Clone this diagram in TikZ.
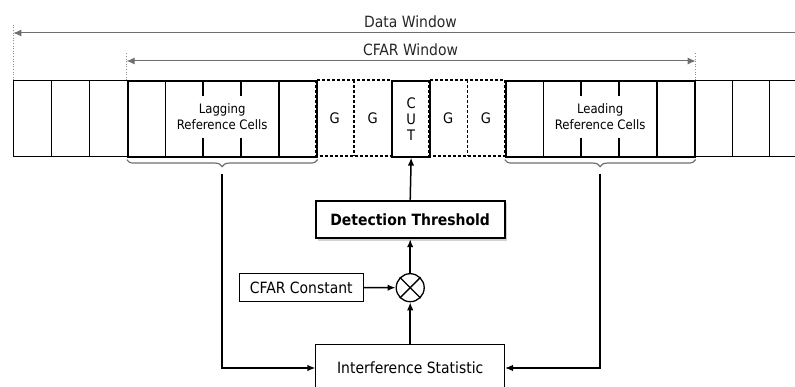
\documentclass[tikz,border=0pt]{standalone}
\usepackage{fontspec}
\setmainfont{DejaVu Sans Condensed}
\usetikzlibrary{arrows.meta,decorations.pathreplacing,shadows,calc}

\definecolor{wingray}{HTML}{6E6E6E}
\definecolor{guidegray}{HTML}{8C8C8C}

\tikzset{
  cell/.style={minimum width=37.8pt, minimum height=75.7pt, inner sep=0pt,
    anchor=north west, font=\fontsize{14.5}{16}\selectfont},
  thincell/.style={cell, draw, line width=0.9pt},
  refcell/.style={cell, draw, line width=1.9pt},
  guardline/.style={line width=1.5pt, dash pattern=on 3pt off 2pt},
  celllabel/.style={fill=white, inner xsep=2pt, inner ysep=8pt, align=center,
    font=\fontsize{13}{15.7}\selectfont},
  block/.style={draw, line width=1pt, inner sep=0pt, fill=white,
    font=\fontsize{15.5}{18}\selectfont},
  conn/.style={line width=1.5pt, -{Latex[length=8pt,width=6.5pt]}},
  win/.style={wingray, line width=1pt},
  winlabel/.style={font=\fontsize{15.5}{18}\selectfont, text=black!85},
  guide/.style={guidegray, line width=0.6pt, dotted},
  brace/.style={wingray, line width=1.2pt, decorate,
    decoration={brace, mirror, amplitude=7pt, raise=2pt}}
}

\begin{document}
\begin{tikzpicture}[x=1pt, y=-1pt]
  \useasboundingbox (0,0) rectangle (795,387);

  % cells outside the CFAR window
  \foreach \i in {0,1,2,18,19,20}
    \node[thincell] (c\i) at ({13.3+37.8*\i},80) {};

  % guard cells
  \foreach \i in {8,9,11,12}
    \node[cell] (c\i) at ({13.3+37.8*\i},80) {G};
  \draw[guardline] (c8.north west) rectangle (c9.south east);
  \draw[guardline] (c11.north west) rectangle (c12.south east);
  \draw[guardline] (c8.north east) -- (c8.south east);
  \draw[guardline] (c11.north east) -- (c11.south east);

  % reference cells and cell under test
  \foreach \i in {3,4,5,6,7,13,14,15,16,17}
    \node[refcell] (c\i) at ({13.3+37.8*\i},80) {};
  \node[refcell, align=center] (c10) at ({13.3+37.8*10},80) {C\\U\\T};

  \node[celllabel] (lag) at ($(c5)+(0,-2)$) {Lagging\\Reference Cells};
  \node[celllabel] (lead) at ($(c15)+(0,-2)$) {Leading\\Reference Cells};

  % data window
  \coordinate (dwL) at ($(c0.north west)+(0,-47)$);
  \coordinate (dwR) at ($(c20.north east)+(0,-47)$);
  \draw[guide] (c0.north west) -- ($(dwL)+(0,-8)$);
  \draw[win, {Latex[length=8pt,width=7pt]}-{Latex[length=8pt,width=7pt]}] (dwL) -- (dwR);
  \node[winlabel] (dwlabel) at (410.5,22) {Data Window};

  % CFAR window
  \coordinate (cwL) at ($(c3.north west)+(0,-19)$);
  \coordinate (cwR) at ($(c17.north east)+(0,-19)$);
  \draw[guide] (c3.north west) -- ($(cwL)+(0,-9)$);
  \draw[guide] (c17.north east) -- ($(cwR)+(0,-9)$);
  \draw[win, {Latex[length=8pt,width=7pt]}-{Latex[length=8pt,width=7pt]}] (cwL) -- (cwR);
  \node[winlabel] (cwlabel) at (410.5,49.3) {CFAR Window};

  % braces under the reference cells
  \draw[brace] (c3.south west) -- (c7.south east);
  \draw[brace] (c13.south west) -- (c17.south east);
  \coordinate (lagtip) at ($(c3.south west)!0.5!(c7.south east)+(0,16)$);
  \coordinate (leadtip) at ($(c13.south west)!0.5!(c17.south east)+(0,16)$);

  % processing chain
  \node[block, line width=1.9pt, minimum width=189pt, minimum height=37.6pt,
    font=\fontsize{15.5}{18}\selectfont\bfseries,
    drop shadow={shadow xshift=2.5pt, shadow yshift=-2.5pt, fill=black!35}]
    (thr) at (410.2,219.5) {Detection Threshold};
  \node[draw, circle, line width=1.3pt, minimum size=28pt, inner sep=0pt]
    (mul) at (410.2,287.7) {};
  \draw[line width=1.3pt] (mul.north east) -- (mul.south west);
  \draw[line width=1.3pt] (mul.north west) -- (mul.south east);
  \node[block, minimum width=124pt, minimum height=28.4pt] (const) at (301.3,287.5) {CFAR Constant};
  \node[block, minimum width=188.6pt, minimum height=48pt] (stat) at (410.2,368) {Interference Statistic};

  \draw[conn] (thr.north) -- (c10.south);
  \draw[conn] (mul.north) -- (thr.south);
  \draw[conn] (stat.north) -- (mul.south);
  \draw[conn] (const.east) -- (mul.west);
  \draw[conn] (lagtip) |- (stat.west);
  \draw[conn] (leadtip) |- (stat.east);
\end{tikzpicture}
\end{document}
